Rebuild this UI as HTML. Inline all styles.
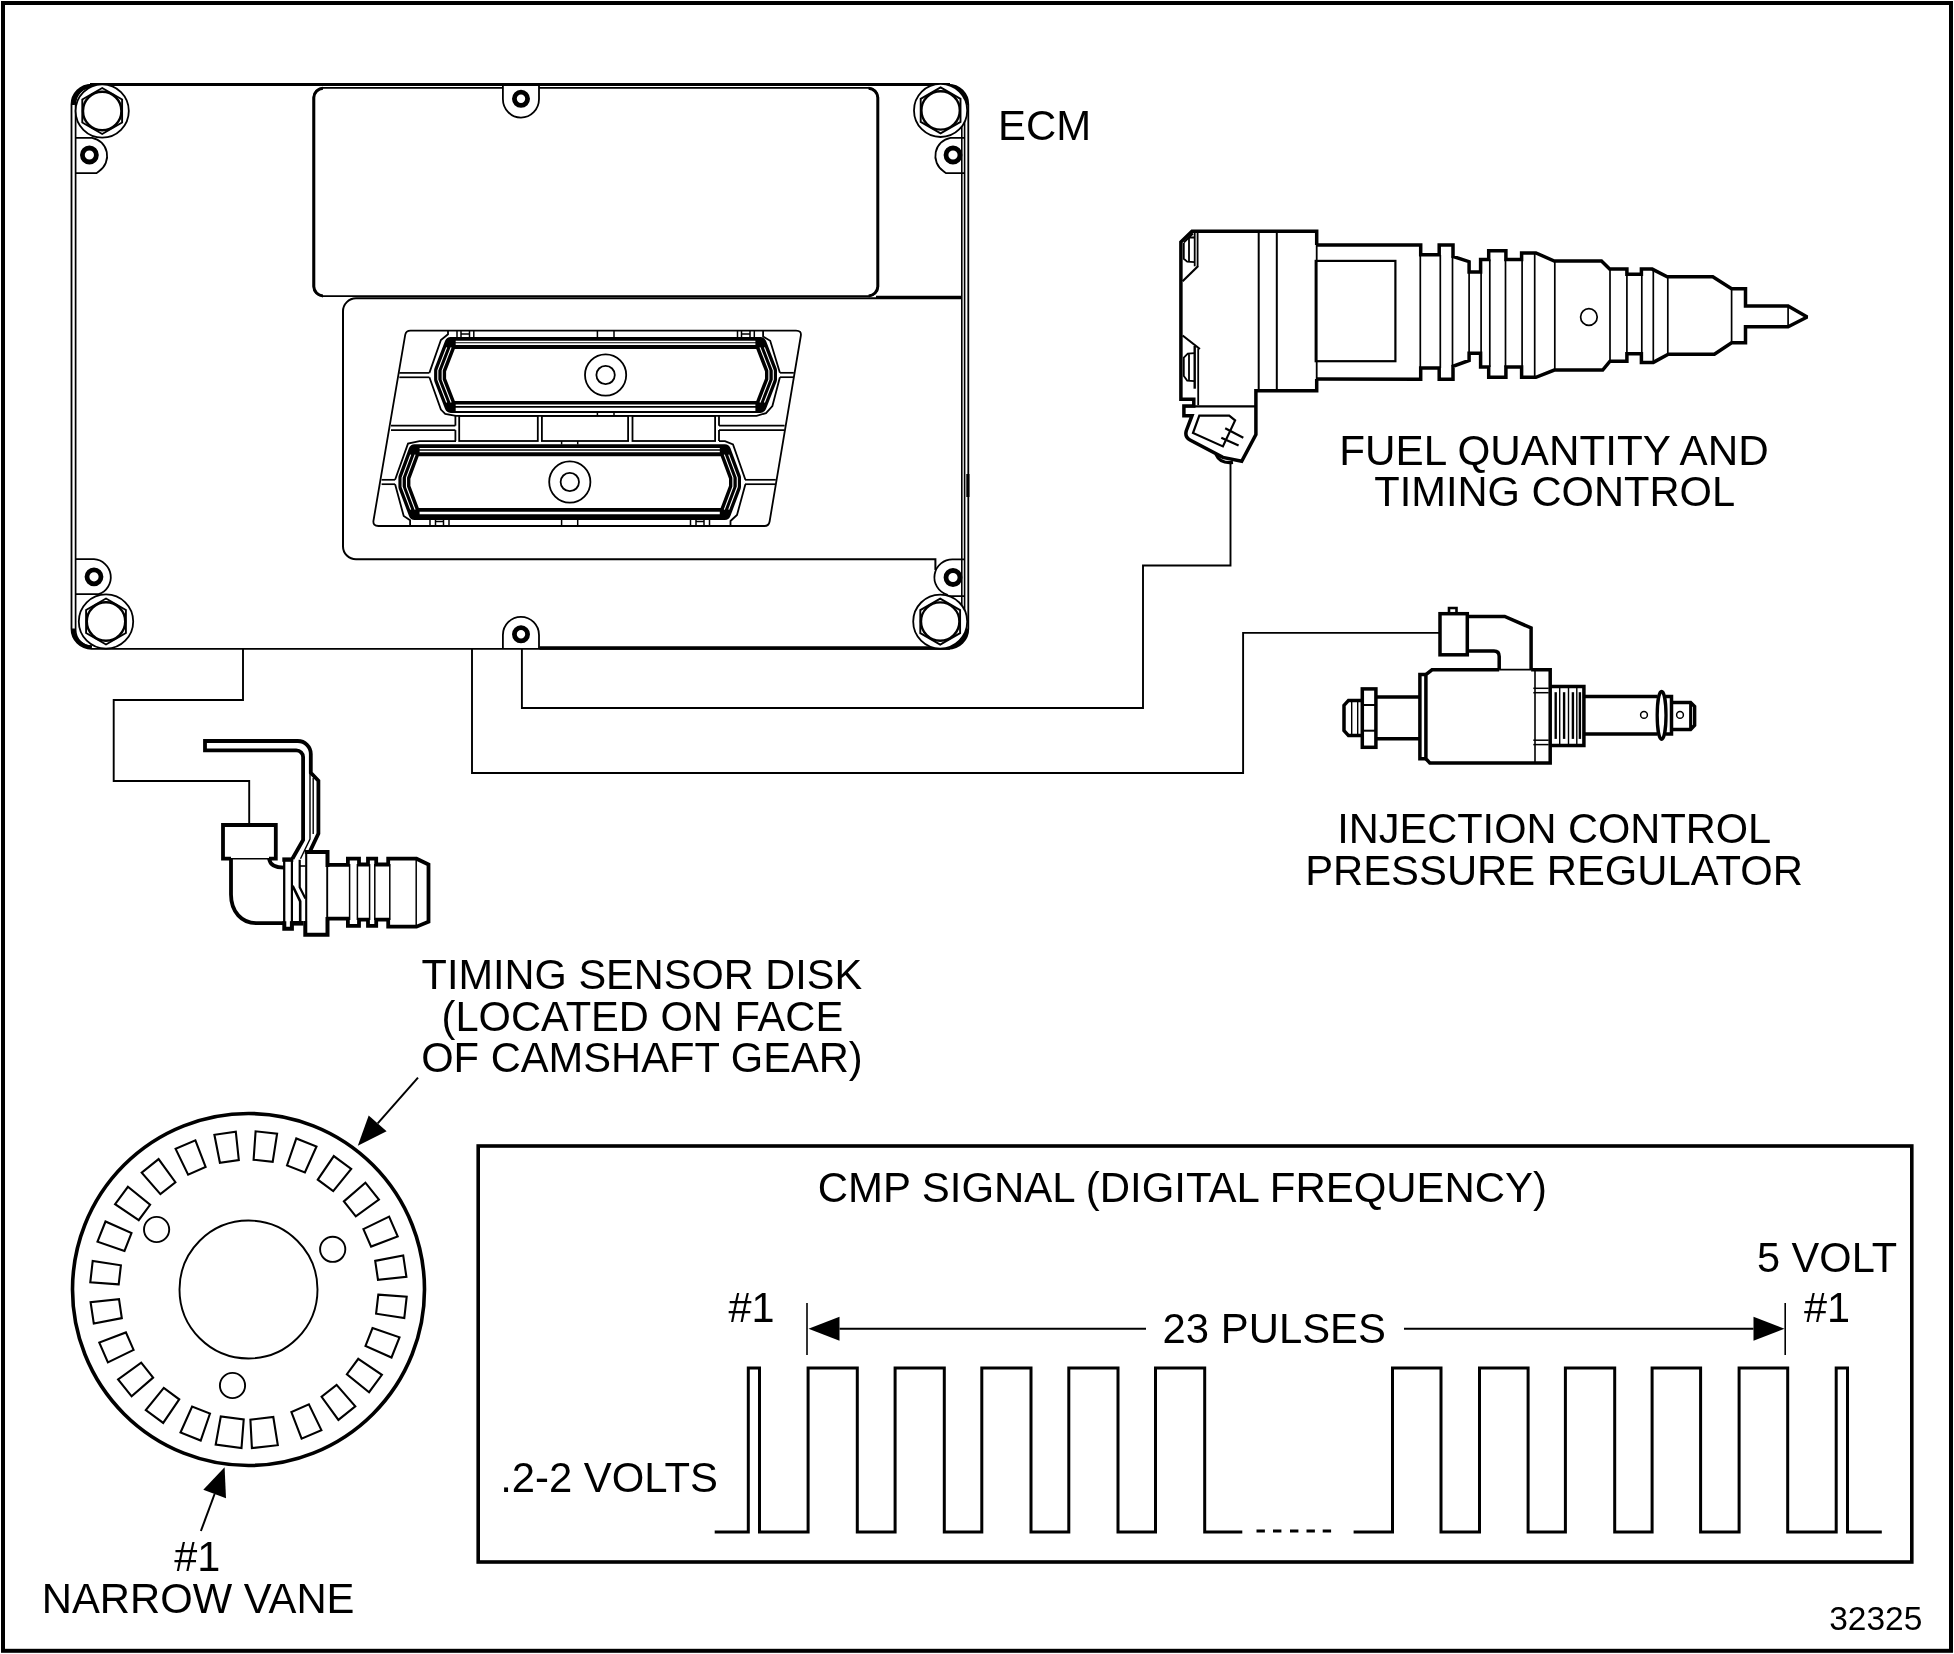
<!DOCTYPE html>
<html lang="en"><head><meta charset="utf-8"><title>CMP signal diagram 32325</title>
<style>
html,body{margin:0;padding:0;background:#fff}
svg{display:block;will-change:transform}
svg text{font-family:"Liberation Sans",sans-serif}
</style></head><body>
<svg width="1954" height="1654" viewBox="0 0 1954 1654" fill="none" stroke="#000" stroke-linecap="butt" stroke-linejoin="miter">
<rect x="0" y="0" width="1954" height="1654" fill="#fff" stroke="none"/>
<rect x="3.0" y="3.0" width="1948.0" height="1647.8" rx="0" stroke-width="4" fill="none"/>
<g id="ecm">
<rect x="71.5" y="84.6" width="896.8" height="564.2" rx="20" stroke-width="1.8" fill="none"/>
<path d="M73.2,105 A18.6,18.6 0 0 1 91.8,86.3" stroke-width="3.4" fill="none" />
<path d="M948,86.3 A18.6,18.6 0 0 1 966.6,105" stroke-width="3.4" fill="none" />
<path d="M73.2,628.4 A18.6,18.6 0 0 0 91.8,647" stroke-width="3.4" fill="none" />
<path d="M948,647 A18.6,18.6 0 0 0 966.6,628.4" stroke-width="3.4" fill="none" />
<line x1="90.0" y1="84.5" x2="950.0" y2="84.5" stroke-width="2.8"/>
<path d="M92,87 A16.5,16.5 0 0 0 75.6,104 V630 A16.5,16.5 0 0 0 92,646.6" stroke-width="1.7" fill="none" />
<line x1="961.8" y1="100.0" x2="961.8" y2="632.0" stroke-width="1.6"/>
<line x1="964.6" y1="100.0" x2="964.6" y2="632.0" stroke-width="1.6"/>
<line x1="539.6" y1="648.0" x2="950.0" y2="648.0" stroke-width="3.6"/>
<line x1="967.9" y1="474.0" x2="967.9" y2="497.0" stroke-width="3.2"/>
<path d="M75.6,137.8 H92 A18.4,18.4 0 0 1 99,171.2 L96.5,173.2 H75.6" stroke-width="1.8" fill="none" />
<path d="M964.6,137.8 H950.5 A18.4,18.4 0 0 0 943.5,171.2 L946,173.2 H964.6" stroke-width="1.8" fill="none" />
<path d="M75.6,559.2 H94 A18,18 0 0 1 98.6,594.2 H75.6" stroke-width="1.8" fill="none" />
<path d="M964.6,559.4 H953 A18,18 0 0 0 946.8,594.5 L948.5,596.2 H964.6" stroke-width="1.8" fill="none" />
<circle cx="102.2" cy="111.0" r="26.6" stroke-width="1.8" fill="#fff"/>
<path d="M102.2,88.0 L122.1,99.5 L122.1,122.5 L102.2,134.0 L82.3,122.5 L82.3,99.5 Z" stroke-width="1.9" fill="none" />
<circle cx="102.2" cy="111.0" r="19.2" stroke-width="2.4" fill="none"/>
<circle cx="940.6" cy="110.4" r="26.6" stroke-width="1.8" fill="#fff"/>
<path d="M940.6,87.4 L960.5,98.9 L960.5,121.9 L940.6,133.4 L920.7,121.9 L920.7,98.9 Z" stroke-width="1.9" fill="none" />
<circle cx="940.6" cy="110.4" r="19.2" stroke-width="2.4" fill="none"/>
<circle cx="106.0" cy="621.5" r="27.2" stroke-width="1.8" fill="#fff"/>
<path d="M106.0,598.5 L125.9,610.0 L125.9,633.0 L106.0,644.5 L86.1,633.0 L86.1,610.0 Z" stroke-width="1.9" fill="none" />
<circle cx="106.0" cy="621.5" r="19.2" stroke-width="2.4" fill="none"/>
<circle cx="940.2" cy="621.6" r="27.0" stroke-width="1.8" fill="#fff"/>
<path d="M940.2,598.6 L960.1,610.1 L960.1,633.1 L940.2,644.6 L920.3,633.1 L920.3,610.1 Z" stroke-width="1.9" fill="none" />
<circle cx="940.2" cy="621.6" r="19.2" stroke-width="2.4" fill="none"/>
<circle cx="89.4" cy="155.0" r="7.0" stroke-width="4.8" fill="#fff"/>
<circle cx="953.0" cy="155.0" r="7.0" stroke-width="4.8" fill="#fff"/>
<circle cx="94.0" cy="576.8" r="7.0" stroke-width="4.8" fill="#fff"/>
<circle cx="953.0" cy="577.5" r="7.0" stroke-width="4.8" fill="#fff"/>
<rect x="313.6" y="87.9" width="564.4" height="208.3" rx="10" stroke-width="1.7" fill="none"/>
<path d="M323,88.2 A9.6,9.6 0 0 0 313.8,97.6 V286.5 A9.6,9.6 0 0 0 323,295.9" stroke-width="3" fill="none" />
<path d="M868.6,88.2 A9.6,9.6 0 0 1 877.8,97.6 V286.5 A9.6,9.6 0 0 1 868.6,295.9" stroke-width="3" fill="none" />
<line x1="876.0" y1="297.3" x2="962.0" y2="297.3" stroke-width="3.2"/>
<path d="M502.9,85.9 V99 A18.05,18.6 0 0 0 539,99 V85.9" stroke-width="1.8" fill="#fff" />
<circle cx="521.0" cy="98.8" r="6.6" stroke-width="4.8" fill="#fff"/>
<path d="M502.9,647.9 V635 A18.05,18.1 0 0 1 539,635 V647.9" stroke-width="1.8" fill="#fff" />
<circle cx="521.0" cy="634.3" r="6.6" stroke-width="4.8" fill="#fff"/>
<path d="M962,298.3 H356 A13,13 0 0 0 343,311.3 V546.4 A13,13 0 0 0 356,559.3 H935.4 V570" stroke-width="2" fill="none" />
<path d="M410.5,330.6 H796 Q801.8,330.6 800.8,336 L769.6,521.5 Q768.8,526 764.5,526 H378.5 Q372.6,526 373.5,520.5 L405.2,334.8 Q406,330.6 410.5,330.6 Z" stroke-width="1.8" fill="none" />
<line x1="399.3" y1="372.9" x2="429.4" y2="372.9" stroke-width="1.7"/>
<line x1="399.3" y1="377.3" x2="429.4" y2="377.3" stroke-width="1.7"/>
<line x1="391.0" y1="425.7" x2="455.4" y2="425.7" stroke-width="1.7"/>
<line x1="391.0" y1="430.1" x2="455.4" y2="430.1" stroke-width="1.7"/>
<line x1="381.6" y1="479.8" x2="395.1" y2="479.8" stroke-width="1.7"/>
<line x1="381.6" y1="484.2" x2="395.1" y2="484.2" stroke-width="1.7"/>
<line x1="779.9" y1="372.8" x2="793.8" y2="372.8" stroke-width="1.7"/>
<line x1="779.9" y1="377.2" x2="793.8" y2="377.2" stroke-width="1.7"/>
<line x1="719.0" y1="425.7" x2="784.6" y2="425.7" stroke-width="1.7"/>
<line x1="719.0" y1="430.1" x2="784.6" y2="430.1" stroke-width="1.7"/>
<line x1="745.0" y1="479.8" x2="775.8" y2="479.8" stroke-width="1.7"/>
<line x1="745.0" y1="484.2" x2="775.8" y2="484.2" stroke-width="1.7"/>
<line x1="455.4" y1="415.8" x2="455.4" y2="425.7" stroke-width="1.8"/>
<line x1="455.4" y1="430.1" x2="455.4" y2="441.1" stroke-width="1.8"/>
<line x1="719.0" y1="415.8" x2="719.0" y2="425.7" stroke-width="1.8"/>
<line x1="719.0" y1="430.1" x2="719.0" y2="441.1" stroke-width="1.8"/>
<path d="M448,330.6 V334.3 L440.9,340 L429.4,372.9 M429.4,377.3 L440.9,409.6 L445.2,413.9 L455.9,415.8 H756.6 L766,413.1 L772.4,406 L779.9,377.2 M779.9,372.8 L770.2,340.8 L763.1,336.5 V330.6" stroke-width="1.8" fill="none" />
<path d="M456,441.1 H419.5 L408,443.6 L395.1,479.8 M395.1,484.2 L403.7,516 L410.1,520.3 V526 M719,441.1 H725 L733,444.5 L745.4,479.8 M745.4,484.2 L737,515 L730.5,521 V526" stroke-width="1.8" fill="none" />
<rect x="459.2" y="415.9" width="78.6" height="25.1" rx="0" stroke-width="1.8" fill="none"/>
<rect x="541.9" y="415.9" width="86.2" height="25.1" rx="0" stroke-width="1.8" fill="none"/>
<rect x="632.5" y="415.9" width="82.6" height="25.1" rx="0" stroke-width="1.8" fill="none"/>
<line x1="457.0" y1="331.0" x2="457.0" y2="345.0" stroke-width="1.5"/>
<line x1="461.0" y1="331.0" x2="461.0" y2="345.0" stroke-width="1.5"/>
<line x1="469.5" y1="331.0" x2="469.5" y2="345.0" stroke-width="1.5"/>
<line x1="473.8" y1="331.0" x2="473.8" y2="345.0" stroke-width="1.5"/>
<line x1="461.0" y1="334.0" x2="469.5" y2="334.0" stroke-width="1.5"/>
<line x1="737.5" y1="331.0" x2="737.5" y2="345.0" stroke-width="1.5"/>
<line x1="741.5" y1="331.0" x2="741.5" y2="345.0" stroke-width="1.5"/>
<line x1="750.0" y1="331.0" x2="750.0" y2="345.0" stroke-width="1.5"/>
<line x1="754.3" y1="331.0" x2="754.3" y2="345.0" stroke-width="1.5"/>
<line x1="741.5" y1="334.0" x2="750.0" y2="334.0" stroke-width="1.5"/>
<line x1="430.0" y1="512.0" x2="430.0" y2="526.0" stroke-width="1.5"/>
<line x1="435.5" y1="512.0" x2="435.5" y2="526.0" stroke-width="1.5"/>
<line x1="443.5" y1="512.0" x2="443.5" y2="526.0" stroke-width="1.5"/>
<line x1="449.0" y1="512.0" x2="449.0" y2="526.0" stroke-width="1.5"/>
<line x1="435.5" y1="521.5" x2="443.5" y2="521.5" stroke-width="1.5"/>
<line x1="690.5" y1="512.0" x2="690.5" y2="526.0" stroke-width="1.5"/>
<line x1="696.0" y1="512.0" x2="696.0" y2="526.0" stroke-width="1.5"/>
<line x1="704.0" y1="512.0" x2="704.0" y2="526.0" stroke-width="1.5"/>
<line x1="709.5" y1="512.0" x2="709.5" y2="526.0" stroke-width="1.5"/>
<line x1="696.0" y1="521.5" x2="704.0" y2="521.5" stroke-width="1.5"/>
<line x1="597.4" y1="330.6" x2="597.4" y2="337.5" stroke-width="1.5"/>
<line x1="597.4" y1="412.5" x2="597.4" y2="415.9" stroke-width="1.5"/>
<line x1="614.0" y1="330.6" x2="614.0" y2="337.5" stroke-width="1.5"/>
<line x1="614.0" y1="412.5" x2="614.0" y2="415.9" stroke-width="1.5"/>
<line x1="561.6" y1="441.0" x2="561.6" y2="444.5" stroke-width="1.5"/>
<line x1="561.6" y1="519.5" x2="561.6" y2="526.0" stroke-width="1.5"/>
<line x1="577.7" y1="441.0" x2="577.7" y2="444.5" stroke-width="1.5"/>
<line x1="577.7" y1="519.5" x2="577.7" y2="526.0" stroke-width="1.5"/>
<path d="M440.1,370.4 L450.7,343.0 L760.4,343.0 L771.0,370.4 L771.0,379.6 L760.4,406.9 L450.7,406.9 L440.1,379.6 Z" stroke="#000" stroke-width="12" stroke-linejoin="round" fill="#fff"/>
<line x1="455.7" y1="341.5" x2="755.4" y2="341.5" stroke="#fff" stroke-width="1.4"/>
<line x1="455.7" y1="344.15" x2="755.4" y2="344.15" stroke="#fff" stroke-width="1.6"/>
<line x1="455.7" y1="405.25" x2="755.4" y2="405.25" stroke="#fff" stroke-width="1.5"/>
<line x1="455.7" y1="409.4" x2="755.4" y2="409.4" stroke="#fff" stroke-width="3.2"/>
<path d="M446.7,347.4 L437.8,370.4 L437.8,379.6 L446.7,402.5" stroke="#fff" stroke-width="1.1" stroke-linejoin="round"/>
<path d="M764.4,347.4 L773.3,370.4 L773.3,379.6 L764.4,402.5" stroke="#fff" stroke-width="1.1" stroke-linejoin="round"/>
<path d="M451.1,347.4 L442.2,370.4 L442.2,379.6 L451.1,402.5" stroke="#fff" stroke-width="1.1" stroke-linejoin="round"/>
<path d="M760.0,347.4 L768.9,370.4 L768.9,379.6 L760.0,402.5" stroke="#fff" stroke-width="1.1" stroke-linejoin="round"/>
<path d="M404.4,477.6 L414.6,450.2 L724.8,450.2 L735.0,477.6 L735.0,486.8 L724.8,513.9 L414.6,513.9 L404.4,486.8 Z" stroke="#000" stroke-width="12" stroke-linejoin="round" fill="#fff"/>
<line x1="419.6" y1="448.6" x2="719.8" y2="448.6" stroke="#fff" stroke-width="1.4"/>
<line x1="419.6" y1="451.5" x2="719.8" y2="451.5" stroke="#fff" stroke-width="1.4"/>
<line x1="419.6" y1="512.95" x2="719.8" y2="512.95" stroke="#fff" stroke-width="2.5"/>
<path d="M410.7,454.6 L402.1,477.6 L402.1,486.8 L410.7,509.6" stroke="#fff" stroke-width="1.1" stroke-linejoin="round"/>
<path d="M728.7,454.6 L737.3,477.6 L737.3,486.8 L728.7,509.6" stroke="#fff" stroke-width="1.1" stroke-linejoin="round"/>
<path d="M415.1,454.6 L406.5,477.6 L406.5,486.8 L415.1,509.6" stroke="#fff" stroke-width="1.1" stroke-linejoin="round"/>
<path d="M724.3,454.6 L732.9,477.6 L732.9,486.8 L724.3,509.6" stroke="#fff" stroke-width="1.1" stroke-linejoin="round"/>
<circle cx="605.6" cy="375.0" r="20.6" stroke-width="1.8" fill="none"/>
<circle cx="605.6" cy="375.0" r="9.2" stroke-width="1.8" fill="none"/>
<circle cx="569.8" cy="482.0" r="20.6" stroke-width="1.8" fill="none"/>
<circle cx="569.8" cy="482.0" r="9.2" stroke-width="1.8" fill="none"/>
</g>
<g id="wires">
<path d="M243,649 V700 H113.7 V781 H249.2 V824" stroke-width="1.9" fill="none" />
<path d="M472,649 V773 H1243.1 V632.9 H1439" stroke-width="1.9" fill="none" />
<path d="M521.9,649 V708 H1143 V565.5 H1230.5 V463" stroke-width="1.9" fill="none" />
</g>
<g id="sensor">
<path d="M310.3,850.6 L318.4,833.6 V780.8 L310.8,772.7 V754 A13,13 0 0 0 297.8,741 H205 V750.3 H296.3 A6.8,6.8 0 0 1 303.1,757.1 V839.9 L292.4,858.7" stroke-width="3.8" fill="none" />
<path d="M310,773 V839 L300.5,858.7" stroke-width="1.4" fill="none" />
<path d="M313.2,778 V834" stroke-width="1.4" fill="none" />
<path d="M231,858.7 H223 V825 H275.8 V858.7 H269" stroke-width="3.8" fill="none" />
<line x1="231.0" y1="858.7" x2="269.0" y2="858.7" stroke-width="1.6"/>
<path d="M231,858.7 V894.5 C231,912 242,923.1 256,923.1 H284.3" stroke-width="3.8" fill="none" />
<path d="M269.1,858.7 C270,865 275,867.6 284.3,867.6" stroke-width="3.8" fill="none" />
<line x1="282.3" y1="859.6" x2="293.3" y2="859.6" stroke-width="4.4"/>
<path d="M284.3,921.3 V928.8 H291.9 V921.3" stroke-width="4.0" fill="none" />
<line x1="284.2" y1="861.0" x2="284.2" y2="927.0" stroke-width="2.3"/>
<line x1="291.9" y1="861.0" x2="291.9" y2="921.5" stroke-width="2.2"/>
<line x1="290.5" y1="923.3" x2="303.5" y2="923.3" stroke-width="4.6"/>
<path d="M292.6,885.8 L300.2,901.4 V921.5" stroke-width="2.6" fill="none" />
<path d="M299.7,859.7 V887.3 L305.4,898.4" stroke-width="2.2" fill="none" />
<line x1="299.7" y1="866.0" x2="305.6" y2="866.0" stroke-width="1.6"/>
<path d="M304.8,851.9 H327.5 V867 M327.5,917 V934.8 H305.3 V921" stroke-width="4.0" fill="none" />
<line x1="306.2" y1="853.0" x2="306.2" y2="921.0" stroke-width="2.1"/>
<line x1="327.2" y1="866.0" x2="327.2" y2="918.0" stroke-width="1.9"/>
<path d="M327.3,864.9 H347.9 V858.7 H359 V864.5 H368 V858.7 H376.2 V864.5 H388.2 V858.7 H416.5 L428.5,864.5 V921.8 L416.5,926.7 H388.2 V919.6 H376.2 V925.8 H368 V919.6 H359 V925.8 H347.9 V918.7 H327.3" stroke-width="3.8" fill="none" />
<line x1="349.6" y1="864.0" x2="349.6" y2="920.0" stroke-width="1.5"/>
<line x1="357.4" y1="864.0" x2="357.4" y2="920.0" stroke-width="1.5"/>
<line x1="369.6" y1="864.0" x2="369.6" y2="920.0" stroke-width="1.5"/>
<line x1="374.8" y1="864.0" x2="374.8" y2="920.0" stroke-width="1.5"/>
<line x1="389.8" y1="864.0" x2="389.8" y2="920.0" stroke-width="1.5"/>
<line x1="416.2" y1="860.0" x2="416.2" y2="926.0" stroke-width="1.5"/>
</g>
<g id="injector">
<path d="M1316.7,245 V231.2 H1192 L1180.9,242 V399.2 H1193.8 V406 H1183.9 V415.7 H1192 L1186.3,430.7 Q1184.5,437 1190,440 L1222.9,457.4 L1241.7,461.3 L1255.9,434.6 V390.7 H1316.7 V379.1" stroke-width="3.5" fill="none" />
<line x1="1316.7" y1="245.0" x2="1316.7" y2="379.1" stroke-width="1.8"/>
<line x1="1185.0" y1="406.3" x2="1255.0" y2="406.3" stroke-width="2.2"/>
<line x1="1258.7" y1="231.0" x2="1258.7" y2="390.7" stroke-width="2"/>
<line x1="1276.8" y1="231.0" x2="1276.8" y2="390.7" stroke-width="2"/>
<line x1="1194.7" y1="232.6" x2="1194.7" y2="266.3" stroke-width="1.8"/>
<line x1="1197.6" y1="232.6" x2="1197.6" y2="266.3" stroke-width="1.8"/>
<line x1="1183.8" y1="242.7" x2="1193.0" y2="233.5" stroke-width="1.8"/>
<path d="M1183.8,243 V258.8 L1187.2,261.7 L1194.7,262.2 M1189,237.5 V262 M1189,237.5 H1194.7" stroke-width="1.8" fill="none" />
<line x1="1198.2" y1="266.0" x2="1182.6" y2="281.2" stroke-width="2.2"/>
<line x1="1182.6" y1="335.5" x2="1199.9" y2="349.0" stroke-width="2.2"/>
<line x1="1194.7" y1="346.0" x2="1194.7" y2="388.7" stroke-width="2.4"/>
<line x1="1198.2" y1="348.5" x2="1198.2" y2="405.2" stroke-width="1.8"/>
<path d="M1194.7,353.2 L1187.8,353.6 L1183.8,357.6 V376 L1187.2,380.6 L1194.7,381.2 M1189,353.6 V381" stroke-width="1.8" fill="none" />
<path d="M1199.3,415.7 L1229.2,415.7 L1235.1,420.4 L1222.9,446.4 L1193.0,433.0 Z" stroke-width="2.2" fill="none" />
<line x1="1225.2" y1="428.3" x2="1243.3" y2="437.7" stroke-width="2.2"/>
<line x1="1221.3" y1="437.7" x2="1238.6" y2="445.6" stroke-width="2.2"/>
<path d="M1216,454.5 Q1220,464 1233,462.5" stroke-width="3.2" fill="none" />
<path d="M1316.7,245.0 L1420.7,244.9 L1420.7,254.8 L1439.2,254.8 L1439.2,244.9 L1453.0,244.9 L1453.0,256.4 L1469.1,261.7 L1469.1,271.9 L1480.6,271.9 L1480.6,259.4 L1488.7,259.4 L1488.7,250.7 L1505.9,250.7 L1505.9,259.4 L1521.6,259.4 L1521.6,253.0 L1535.9,253.0 L1554.3,261.0 L1601.5,261.0 L1609.6,269.1 L1626.9,269.1 L1626.9,274.2 L1641.4,274.2 L1641.4,269.1 L1652.2,269.1 L1667.2,276.7 L1712.8,276.7 L1731.6,288.7 L1745.5,288.7 L1745.5,305.9 L1788.1,305.9 L1807.2,317.0 L1788.1,326.7 L1745.5,326.7 L1745.5,342.8 L1731.6,342.8 L1714.4,354.3 L1668.3,354.3 L1653.3,362.4 L1641.4,362.4 L1641.4,353.8 L1626.9,353.8 L1626.9,361.2 L1610.0,361.2 L1602.7,370.0 L1554.3,370.0 L1535.9,377.3 L1521.6,377.3 L1521.6,367.0 L1505.9,367.0 L1505.9,377.3 L1488.7,377.3 L1488.7,367.0 L1480.6,367.0 L1480.6,353.2 L1469.1,353.2 L1469.1,360.5 L1453.0,366.3 L1453.0,379.2 L1439.2,379.2 L1439.2,368.1 L1420.7,368.1 L1420.7,379.2 L1316.7,379.1" stroke-width="3.5" fill="none" stroke-linejoin="miter" stroke-miterlimit="1.9"/>
<line x1="1420.3" y1="254.8" x2="1420.3" y2="368.1" stroke-width="1.7"/>
<line x1="1440.3" y1="254.8" x2="1440.3" y2="368.1" stroke-width="1.7"/>
<line x1="1452.5" y1="256.4" x2="1452.5" y2="366.3" stroke-width="1.7"/>
<line x1="1469.1" y1="271.9" x2="1469.1" y2="353.2" stroke-width="1.7"/>
<line x1="1481.1" y1="271.9" x2="1481.1" y2="353.2" stroke-width="1.7"/>
<line x1="1489.8" y1="259.4" x2="1489.8" y2="367.0" stroke-width="1.7"/>
<line x1="1505.5" y1="259.4" x2="1505.5" y2="367.0" stroke-width="1.7"/>
<line x1="1522.1" y1="259.4" x2="1522.1" y2="367.0" stroke-width="1.7"/>
<line x1="1534.7" y1="253.0" x2="1534.7" y2="377.3" stroke-width="1.7"/>
<line x1="1554.8" y1="261.0" x2="1554.8" y2="370.0" stroke-width="1.7"/>
<line x1="1610.0" y1="269.1" x2="1610.0" y2="361.2" stroke-width="1.7"/>
<line x1="1626.9" y1="274.2" x2="1626.9" y2="353.8" stroke-width="1.7"/>
<line x1="1641.8" y1="274.2" x2="1641.8" y2="353.8" stroke-width="1.7"/>
<line x1="1653.3" y1="269.7" x2="1653.3" y2="362.4" stroke-width="1.7"/>
<line x1="1667.8" y1="276.7" x2="1667.8" y2="354.6" stroke-width="1.7"/>
<line x1="1731.6" y1="288.7" x2="1731.6" y2="342.8" stroke-width="1.7"/>
<line x1="1788.1" y1="305.9" x2="1788.1" y2="326.7" stroke-width="1.7"/>
<rect x="1315.7" y="260.9" width="79.7" height="100.3" rx="0" stroke-width="2.2" fill="none"/>
<circle cx="1588.9" cy="317.0" r="8.3" stroke-width="1.7" fill="none"/>
</g>
<g id="regulator">
<rect x="1440.0" y="613.7" width="27.3" height="41.1" rx="0" stroke-width="3.5" fill="none"/>
<path d="M1449,613.7 V608 H1456.5 V613.7" stroke-width="2.6" fill="none" />
<path d="M1467.3,616.5 H1504.7 L1531.1,628 V669.8" stroke-width="3.5" fill="none" />
<path d="M1467.3,651 H1494 Q1499.2,651 1499.2,656.5 V669.8" stroke-width="3.5" fill="none" />
<path d="M1499.2,669.8 H1432 L1425.9,674.6 V758.7 L1429.8,762.9 H1550.2 V669.8 H1531.1" stroke-width="3.5" fill="none" />
<line x1="1499.2" y1="669.6" x2="1531.1" y2="669.6" stroke-width="1.6"/>
<path d="M1425.9,674.6 H1419.9 V758.7 H1425.9" stroke-width="3.5" fill="none" />
<line x1="1535.0" y1="669.8" x2="1535.0" y2="762.9" stroke-width="1.6"/>
<line x1="1533.3" y1="688.3" x2="1548.7" y2="688.3" stroke-width="1.5"/>
<line x1="1533.3" y1="692.7" x2="1548.7" y2="692.7" stroke-width="1.5"/>
<line x1="1533.3" y1="740.2" x2="1548.7" y2="740.2" stroke-width="1.5"/>
<line x1="1533.3" y1="744.6" x2="1548.7" y2="744.6" stroke-width="1.5"/>
<path d="M1550.2,686.5 H1583.9 V745.5 H1550.2" stroke-width="3.5" fill="none" />
<line x1="1555.7" y1="692.2" x2="1555.7" y2="738.9" stroke-width="2.4"/>
<line x1="1564.1" y1="692.2" x2="1564.1" y2="738.9" stroke-width="2.4"/>
<line x1="1572.9" y1="692.2" x2="1572.9" y2="738.9" stroke-width="2.4"/>
<line x1="1579.9" y1="692.2" x2="1579.9" y2="738.9" stroke-width="2.4"/>
<line x1="1559.7" y1="686.5" x2="1559.7" y2="745.5" stroke-width="1.4"/>
<line x1="1568.5" y1="686.5" x2="1568.5" y2="745.5" stroke-width="1.4"/>
<line x1="1576.8" y1="686.5" x2="1576.8" y2="745.5" stroke-width="1.4"/>
<path d="M1583.9,696.6 H1657.6 M1583.9,734 H1657.6" stroke-width="3.5" fill="none" />
<ellipse cx="1661.6" cy="715.3" rx="4.4" ry="24" stroke-width="3.3" fill="#fff"/>
<path d="M1665.4,696.6 H1671.5 V734 H1665.4" stroke-width="3.5" fill="none" />
<path d="M1671.5,702.4 H1690.6 L1694.6,706.5 V725.3 L1690.6,729.6 H1671.5" stroke-width="3.5" fill="none" />
<line x1="1690.6" y1="702.4" x2="1690.6" y2="729.6" stroke-width="3"/>
<circle cx="1644.0" cy="714.9" r="3.4" stroke-width="1.5" fill="none"/>
<circle cx="1680.0" cy="714.9" r="3.4" stroke-width="1.5" fill="none"/>
<path d="M1375.9,696.9 H1419.9 M1375.9,738.7 H1419.9" stroke-width="3.5" fill="none" />
<rect x="1362.3" y="688.9" width="13.6" height="58.4" rx="0" stroke-width="3.5" fill="none"/>
<line x1="1362.3" y1="705.0" x2="1375.9" y2="705.0" stroke-width="2"/>
<line x1="1362.3" y1="730.7" x2="1375.9" y2="730.7" stroke-width="2"/>
<path d="M1362.3,700.4 H1348.5 L1344,705.4 V730.6 L1348.5,735.6 H1362.3" stroke-width="3.5" fill="none" />
<line x1="1351.7" y1="700.4" x2="1351.7" y2="735.6" stroke-width="1.4"/>
<line x1="1357.7" y1="700.4" x2="1357.7" y2="735.6" stroke-width="1.4"/>
</g>
<g id="labels" stroke="none" fill="#000">
<text transform="translate(997.97,140.00) scale(1.0116,1.03)" font-size="41.4">ECM</text>
<text transform="translate(1339.33,464.50) scale(1.0202,1.03)" font-size="41.4">FUEL QUANTITY AND</text>
<text transform="translate(1374.20,506.30) scale(1.0064,1.03)" font-size="41.4">TIMING CONTROL</text>
<text transform="translate(1337.19,843.20) scale(1.0040,1.03)" font-size="41.4">INJECTION CONTROL</text>
<text transform="translate(1305.17,885.00) scale(1.0099,1.03)" font-size="41.4">PRESSURE REGULATOR</text>
<text transform="translate(421.60,989.30) scale(1.0030,1.03)" font-size="41.4">TIMING SENSOR DISK</text>
<text transform="translate(441.59,1031.10) scale(1.0056,1.03)" font-size="41.4">(LOCATED ON FACE</text>
<text transform="translate(421.19,1072.40) scale(1.0071,1.03)" font-size="41.4">OF CAMSHAFT GEAR)</text>
<text transform="translate(817.77,1201.70) scale(1.0133,1.03)" font-size="41.4">CMP SIGNAL (DIGITAL FREQUENCY)</text>
<text transform="translate(1756.99,1272.00) scale(1.0036,1.03)" font-size="41.4">5 VOLT</text>
<text transform="translate(1804.10,1322.40) scale(1.0000,1.03)" font-size="41.4">#1</text>
<text transform="translate(728.50,1322.40) scale(1.0000,1.03)" font-size="41.4">#1</text>
<text transform="translate(1162.58,1342.90) scale(1.0111,1.03)" font-size="41.4">23 PULSES</text>
<text transform="translate(500.16,1492.30) scale(1.0105,1.03)" font-size="41.4">.2-2 VOLTS</text>
<text transform="translate(174.20,1570.70) scale(1.0000,1.03)" font-size="41.4">#1</text>
<text transform="translate(41.77,1612.70) scale(1.0098,1.03)" font-size="41.4">NARROW VANE</text>
<text transform="translate(1829.18,1630.00) scale(1.0157,1.03)" font-size="33">32325</text>
</g>
<g id="arrows">
<line x1="418.0" y1="1077.6" x2="377.7" y2="1123.3" stroke-width="2"/>
<polygon points="357.8,1145.8 368.7,1115.4 386.6,1131.2" fill="#000" stroke="none"/>
<line x1="200.9" y1="1531.0" x2="214.6" y2="1494.0" stroke-width="2"/>
<polygon points="224.6,1467.2 226.0,1498.2 203.3,1489.8" fill="#000" stroke="none"/>
<line x1="1146.0" y1="1328.7" x2="839.5" y2="1328.7" stroke-width="2"/>
<polygon points="808.5,1328.7 839.5,1316.7 839.5,1340.7" fill="#000" stroke="none"/>
<line x1="1404.0" y1="1328.7" x2="1753.5" y2="1328.7" stroke-width="2"/>
<polygon points="1784.5,1328.7 1753.5,1340.7 1753.5,1316.7" fill="#000" stroke="none"/>
<line x1="807.0" y1="1303.0" x2="807.0" y2="1355.0" stroke-width="1.6"/>
<line x1="1785.2" y1="1303.0" x2="1785.2" y2="1355.0" stroke-width="1.6"/>
</g>
<g id="disk">
<circle cx="248.5" cy="1289.5" r="176.0" stroke-width="3.6" fill="none"/>
<circle cx="248.5" cy="1289.5" r="69.0" stroke-width="1.9" fill="none"/>
<circle cx="156.6" cy="1229.5" r="12.6" stroke-width="1.9" fill="none"/>
<circle cx="332.7" cy="1249.3" r="12.6" stroke-width="1.9" fill="none"/>
<circle cx="232.5" cy="1385.5" r="12.6" stroke-width="1.9" fill="none"/>
<path d="M253.6,1159.7 L255.6,1131.3 L277.1,1133.7 L272.7,1161.9 Z" stroke-width="2.1" fill="none" />
<path d="M287.0,1165.5 L296.3,1138.5 L316.5,1146.5 L304.9,1172.5 Z" stroke-width="2.1" fill="none" />
<path d="M317.8,1179.7 L333.8,1156.1 L351.2,1168.9 L333.2,1191.1 Z" stroke-width="2.1" fill="none" />
<path d="M343.9,1201.4 L365.4,1182.7 L378.9,1199.6 L355.8,1216.4 Z" stroke-width="2.1" fill="none" />
<path d="M363.4,1229.1 L389.1,1216.6 L397.7,1236.4 L371.1,1246.6 Z" stroke-width="2.1" fill="none" />
<path d="M375.2,1260.9 L403.2,1255.4 L406.4,1276.8 L378.0,1279.8 Z" stroke-width="2.1" fill="none" />
<path d="M378.3,1294.6 L406.7,1296.6 L404.3,1318.1 L376.1,1313.7 Z" stroke-width="2.1" fill="none" />
<path d="M372.5,1328.0 L399.5,1337.3 L391.5,1357.5 L365.5,1345.9 Z" stroke-width="2.1" fill="none" />
<path d="M358.3,1358.8 L381.9,1374.8 L369.1,1392.2 L346.9,1374.2 Z" stroke-width="2.1" fill="none" />
<path d="M336.6,1384.9 L355.3,1406.4 L338.4,1419.9 L321.6,1396.8 Z" stroke-width="2.1" fill="none" />
<path d="M308.9,1404.4 L321.4,1430.1 L301.6,1438.7 L291.4,1412.1 Z" stroke-width="2.1" fill="none" />
<path d="M273.3,1417.0 L277.8,1445.2 L251.9,1448.1 L250.4,1419.6 Z" stroke-width="2.1" fill="none" />
<path d="M243.7,1419.5 L241.5,1448.0 L215.7,1444.5 L220.8,1416.4 Z" stroke-width="2.1" fill="none" />
<path d="M210.0,1413.5 L200.7,1440.5 L180.5,1432.5 L192.1,1406.5 Z" stroke-width="2.1" fill="none" />
<path d="M179.2,1399.3 L163.2,1422.9 L145.8,1410.1 L163.8,1387.9 Z" stroke-width="2.1" fill="none" />
<path d="M153.1,1377.6 L131.6,1396.3 L118.1,1379.4 L141.2,1362.6 Z" stroke-width="2.1" fill="none" />
<path d="M133.6,1349.9 L107.9,1362.4 L99.3,1342.6 L125.9,1332.4 Z" stroke-width="2.1" fill="none" />
<path d="M121.8,1318.1 L93.8,1323.6 L90.6,1302.2 L119.0,1299.2 Z" stroke-width="2.1" fill="none" />
<path d="M118.7,1284.4 L90.3,1282.4 L92.7,1260.9 L120.9,1265.3 Z" stroke-width="2.1" fill="none" />
<path d="M124.5,1251.0 L97.5,1241.7 L105.5,1221.5 L131.5,1233.1 Z" stroke-width="2.1" fill="none" />
<path d="M138.7,1220.2 L115.1,1204.2 L127.9,1186.8 L150.1,1204.8 Z" stroke-width="2.1" fill="none" />
<path d="M160.4,1194.1 L141.7,1172.6 L158.6,1159.1 L175.4,1182.2 Z" stroke-width="2.1" fill="none" />
<path d="M188.1,1174.6 L175.6,1148.9 L195.4,1140.3 L205.6,1166.9 Z" stroke-width="2.1" fill="none" />
<path d="M219.9,1162.8 L214.4,1134.8 L235.8,1131.6 L238.8,1160.0 Z" stroke-width="2.1" fill="none" />
</g>
<g id="signal">
<rect x="478.2" y="1146.0" width="1433.6" height="416.0" rx="0" stroke-width="3.6" fill="none"/>
<path d="M714.7,1532 H748.3 V1368 H759.5 V1532 H808.1 V1368 H857.3000000000001 V1532 H895.1 V1368 H944.3000000000001 V1532 H981.8 V1368 H1031.0 V1532 H1068.8 V1368 H1118.0 V1532 H1155.5 V1368 H1204.7 V1532 H1242.3" stroke-width="3" fill="none" stroke-linejoin="miter"/>
<path d="M1353.6,1532 H1392.5 V1368 H1441 V1532 H1479.5 V1368 H1528.1 V1532 H1565.4 V1368 H1614.7 V1532 H1652.1 V1368 H1700.6 V1532 H1739.1 V1368 H1787.7 V1532 H1836.2 V1368 H1847.5 V1532 H1881.8" stroke-width="3" fill="none" stroke-linejoin="miter"/>
<line x1="1256.5" y1="1531.0" x2="1264.9" y2="1531.0" stroke-width="3"/>
<line x1="1273.0" y1="1531.0" x2="1281.4" y2="1531.0" stroke-width="3"/>
<line x1="1290.0" y1="1531.0" x2="1298.4" y2="1531.0" stroke-width="3"/>
<line x1="1306.5" y1="1531.0" x2="1314.9" y2="1531.0" stroke-width="3"/>
<line x1="1322.7" y1="1531.0" x2="1331.1" y2="1531.0" stroke-width="3"/>
</g>
</svg>
</body></html>
